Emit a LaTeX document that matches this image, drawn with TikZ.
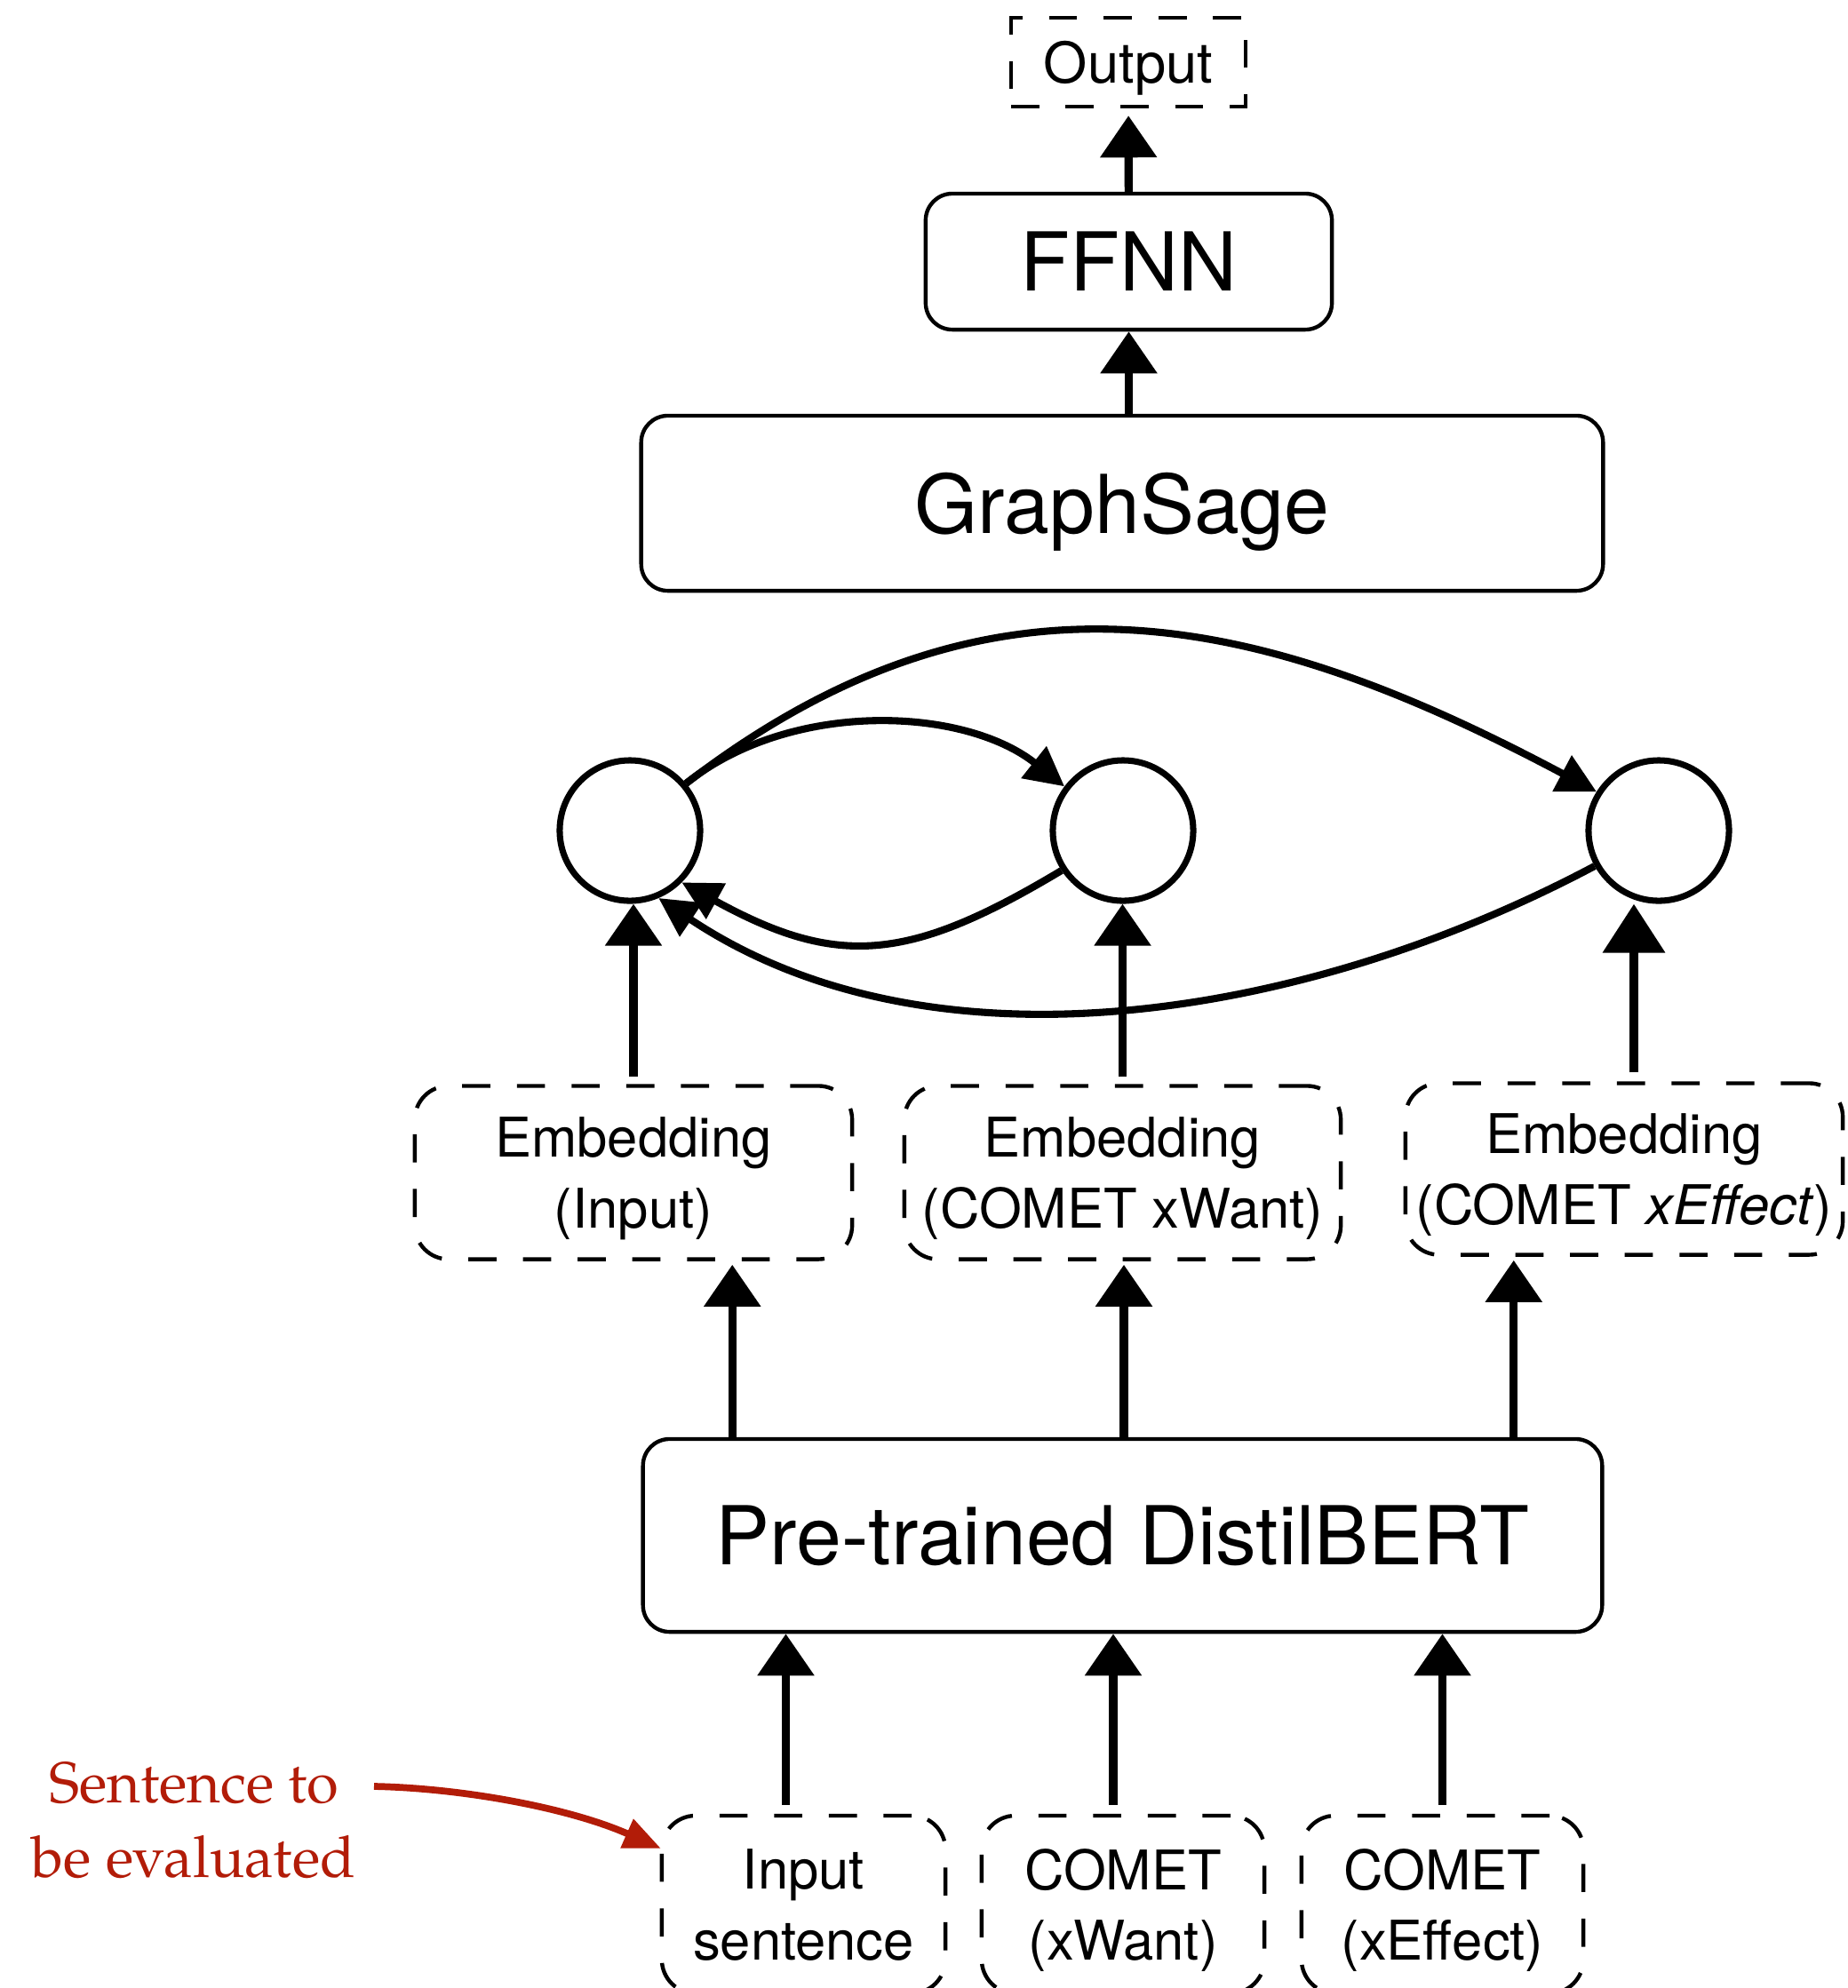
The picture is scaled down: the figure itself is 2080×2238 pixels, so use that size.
\documentclass[tikz,border=0pt]{standalone}
\usepackage{fontspec}
\setmainfont{TeX Gyre Heros}
\newfontfamily\pagella{texgyrepagella-regular.otf}
\usetikzlibrary{arrows.meta}

\definecolor{noteRed}{RGB}{178,28,8}

\tikzset{
  solidbox/.style={draw, line width=1.25pt, rounded corners=0.3cm, align=center,
    font=\fontsize{26}{30}\selectfont, inner sep=0pt},
  dashbox/.style={draw, line width=1.25pt, dash pattern=on 9pt off 8.5pt,
    rounded corners=0.38cm, align=center, text depth=0pt,
    font=\fontsize{17.5}{22.7}\selectfont, inner sep=0pt},
  graphnode/.style={circle, draw, line width=2pt, minimum size=1.58cm, inner sep=0pt},
  edge/.style={line width=2.3pt, -{Triangle[length=0.44cm,width=0.44cm]}},
  sketch/.style={line width=2.6pt, -{Triangle[length=0.47cm,width=0.62cm]}},
  bigsketch/.style={line width=3pt, -{Triangle[length=0.55cm,width=0.68cm]}},
}

\begin{document}
\begin{tikzpicture}[x=0.01cm,y=-0.01cm]
\clip (0,0) rectangle (2080,2238);
\fill[white] (0,0) rectangle (2080,2238);

% upper stack
\node[dashbox, rounded corners=0pt, minimum width=2.64cm, minimum height=1.0cm,
      text depth=-0.07cm, font=\fontsize{18}{22}\selectfont] (out) at (1270,70) {Output};
\node[solidbox, minimum width=4.57cm, minimum height=1.53cm] (ffnn) at (1270.5,294.5) {FFNN};
\node[solidbox, minimum width=10.82cm, minimum height=1.97cm, text depth=0pt] (gs) at (1263,566.5) {GraphSage};

% graph nodes
\node[graphnode] (c1) at (709,935) {};
\node[graphnode] (c2) at (1264,935) {};
\node[graphnode] (c3) at (1867,935) {};

% embeddings
\node[dashbox, minimum width=4.92cm, minimum height=1.95cm] (e1) at (713,1320) {Embedding\\(Input)};
\node[dashbox, minimum width=4.91cm, minimum height=1.95cm] (e2) at (1263.5,1320) {Embedding\\(COMET xWant)};
\node[dashbox, minimum width=4.92cm, minimum height=1.93cm] (e3) at (1828,1316) {Embedding\\(COMET \textit{xEffect})};

% encoder
\node[solidbox, minimum width=10.79cm, minimum height=2.17cm] (bert) at (1263.5,1728.5) {Pre-trained DistilBERT};

% inputs
\node[dashbox, minimum width=3.19cm, minimum height=2.0cm] (s1) at (904.5,2144) {Input\\sentence};
\node[dashbox, minimum width=3.18cm, minimum height=2.0cm] (s2) at (1264,2144) {COMET\\(xWant)};
\node[dashbox, minimum width=3.17cm, minimum height=2.0cm] (s3) at (1623.5,2144) {COMET\\(xEffect)};

% annotation
\node[text=noteRed, font=\pagella\fontsize{18.5}{24}\selectfont, align=center, inner sep=0pt]
  (note) at (218,2049) {Sentence to\\be evaluated};
\coordinate (noteTail) at (421,2011);
\coordinate (noteTip) at (744,2081);
\draw[noteRed, line width=2.2pt, -{Triangle[length=0.42cm,width=0.34cm]}]
  (noteTail) .. controls (520,2013) and (640,2035) .. (noteTip);

% vertical flow arrows
\draw[sketch, shorten >=0.08cm] (ffnn) -- (out);
\draw[sketch] (gs.north -| ffnn) -- (ffnn.south);

\draw[sketch, shorten <=0.08cm] (e1.north) -- (e1.north |- c1.south);
\draw[sketch, shorten <=0.08cm] (e2.north) -- (e2.north |- c2.south);
\draw[bigsketch, shorten <=0.1cm] ([xshift=0.11cm]e3.north) -- ([xshift=0.11cm]e3.north |- c3.south);

\draw[sketch, shorten >=0.04cm] ([xshift=-4.39cm]bert.north) -- ([xshift=-4.39cm]bert.north |- e1.south);
\draw[sketch, shorten >=0.04cm] ([xshift=0.015cm]bert.north) -- ([xshift=0.015cm]bert.north |- e2.south);
\draw[sketch, shorten >=0.04cm] ([xshift=4.4cm]bert.north) -- ([xshift=4.4cm]bert.north |- e3.south);

\draw[sketch, shorten <=0.1cm] ([xshift=-0.2cm]s1.north) -- ([xshift=-0.2cm]s1.north |- bert.south);
\draw[sketch, shorten <=0.1cm] ([xshift=-0.11cm]s2.north) -- ([xshift=-0.11cm]s2.north |- bert.south);
\draw[sketch, shorten <=0.1cm] (s3.north) -- (s3.north |- bert.south);

% graph edges
\draw[edge] (c1.40) .. controls (1117,617) and (1417,689) .. (c3.148);
\draw[edge] (c1.40) .. controls (889,788) and (1084,795) .. (c2.143);
\draw[edge] (c2.213) .. controls (1023,1083) and (943,1090) .. (c1.315);
\draw[edge] (c3.209) .. controls (1469,1148) and (1048,1216) .. (c1.293);
\end{tikzpicture}
\end{document}
